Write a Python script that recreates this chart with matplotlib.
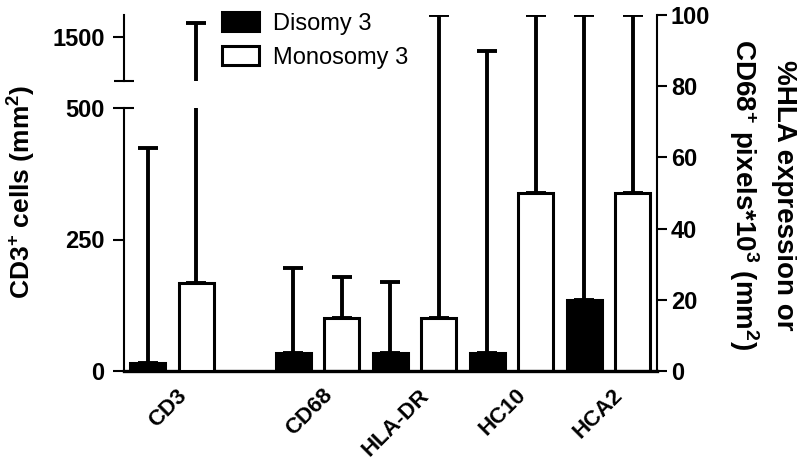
import matplotlib
matplotlib.use('Agg')
import matplotlib.pyplot as plt
import matplotlib.transforms as mtransforms
import numpy as np
from matplotlib.patches import Patch

plt.rcParams['font.family'] = ['Liberation Sans', 'DejaVu Sans']
plt.rcParams['mathtext.fontset'] = 'custom'
plt.rcParams['mathtext.rm'] = 'Liberation Sans'
plt.rcParams['mathtext.bf'] = 'Liberation Sans:bold'
plt.rcParams['mathtext.default'] = 'bf'

groups = ['CD3', 'CD68', 'HLA-DR', 'HC10', 'HCA2']
series = ['Disomy 3', 'Monosomy 3']

# CD3 is read on the left (broken) axis, cells per mm2
cd3_disomy = 15
cd3_monosomy = 167
cd3_disomy_top = 424
cd3_monosomy_top = 1659

# the other markers are read on the right axis
disomy = [5, 5, 5, 20]
monosomy = [15, 15, 50, 50]
disomy_top = [29, 25, 90, 100]
monosomy_top = [26.5, 100, 100, 100]

left_ticks_low = [0, 250, 500]
left_ticks_high = [1500]
right_ticks = [0, 20, 40, 60, 80, 100]

W, H = 797, 468
fig = plt.figure(figsize=(W / 100, H / 100), dpi=100)

def box(x0, y0, x1, y1):
    # pixel box (top-left origin) -> figure fraction
    return [x0 / W, 1 - y1 / H, (x1 - x0) / W, (y1 - y0) / H]

ax_r = fig.add_axes(box(124, 15, 657, 371))
ax_l = fig.add_axes(box(124, 108, 657, 371))
ax_t = fig.add_axes(box(124, 15, 657, 81))

idx = np.arange(len(groups))
xpos = idx + 0.5 * (idx > 0)
off = 0.25
width = 0.36
xlim = (-0.495, 5.0)

bar_kw = dict(width=width, edgecolor='black', linewidth=2.2)
err_kw = dict(fmt='none', ecolor='black', elinewidth=2.8, capsize=7, capthick=2.8)

# right axis groups
xr = xpos[1:]
ax_r.bar(xr - off, disomy, color='black', **bar_kw)
ax_r.bar(xr + off, monosomy, color='white', **bar_kw)
d = np.array(disomy)
m = np.array(monosomy)
ax_r.errorbar(xr - off, d, yerr=[np.zeros(len(d)), np.array(disomy_top) - d], **err_kw)
ax_r.errorbar(xr + off, m, yerr=[np.zeros(len(m)), np.array(monosomy_top) - m], **err_kw)

# CD3 on the left axis, drawn on both pieces of the broken axis
for ax in (ax_l, ax_t):
    ax.bar([xpos[0] - off], [cd3_disomy], color='black', **bar_kw)
    ax.bar([xpos[0] + off], [cd3_monosomy], color='white', **bar_kw)
    ax.errorbar([xpos[0] - off], [cd3_disomy], yerr=[[0], [cd3_disomy_top - cd3_disomy]], **err_kw)
    ax.errorbar([xpos[0] + off], [cd3_monosomy], yerr=[[0], [cd3_monosomy_top - cd3_monosomy]], **err_kw)

for ax in (ax_r, ax_l, ax_t):
    ax.set_xlim(*xlim)
    ax.patch.set_alpha(0)
    for s in ax.spines.values():
        s.set_visible(False)

# right axis
ax_r.set_ylim(0, 100)
ax_r.spines['right'].set_visible(True)
ax_r.spines['right'].set_linewidth(1.5)
ax_r.spines['bottom'].set_visible(True)
ax_r.spines['bottom'].set_linewidth(2.4)
ax_r.yaxis.tick_right()
ax_r.set_yticks(right_ticks)
ax_r.tick_params(axis='y', direction='out', length=7, width=1.5, pad=3, labelsize=17)
ax_r.set_xticks(xpos)
ax_r.set_xticklabels(groups, rotation=45, ha='right', rotation_mode='anchor',
                     fontweight='bold', fontsize=16)
ax_r.tick_params(axis='x', length=0, pad=10)
shift = mtransforms.ScaledTranslation(4 / 100, 0, fig.dpi_scale_trans)
for lab in ax_r.get_xticklabels():
    lab.set_transform(lab.get_transform() + shift)
for lab in ax_r.get_yticklabels():
    lab.set_fontweight('bold')

# lower left piece
ax_l.set_ylim(0, 500)
ax_l.spines['left'].set_visible(True)
ax_l.spines['left'].set_linewidth(1.5)
ax_l.set_xticks([])
ax_l.set_yticks(left_ticks_low)
ax_l.yaxis.remove_overlapping_locs = False
ax_l.set_yticks([left_ticks_low[-1]], minor=True)
ax_l.tick_params(axis='y', which='major', direction='out', length=8, width=1.5, pad=6, labelsize=17)
ax_l.tick_params(axis='y', which='minor', direction='in', length=7, width=1.5)
for lab in ax_l.get_yticklabels():
    lab.set_fontweight('bold')

# upper left piece
ax_t.set_ylim(1000, 1750)
ax_t.spines['left'].set_visible(True)
ax_t.spines['left'].set_linewidth(1.5)
ax_t.set_xticks([])
ax_t.set_yticks(left_ticks_high)
ax_t.set_yticks([1000], minor=True)
ax_t.tick_params(axis='y', which='major', direction='out', length=8, width=1.5, pad=6, labelsize=17)
ax_t.tick_params(axis='y', which='minor', direction='inout', length=15, width=1.5)
for lab in ax_t.get_yticklabels():
    lab.set_fontweight('bold')

fig.text(22 / W, 1 - 192 / H, r'CD3$^{+}$ cells (mm$^{2}$)', rotation=90,
         ha='center', va='center', fontsize=19, fontweight='bold')
fig.text(762 / W, 1 - 195 / H, '%HLA expression or\n' + r'CD68$^{+}$ pixels*10$^{3}$ (mm$^{2}$)',
         rotation=-90, ha='center', va='center', fontsize=20, fontweight='bold',
         linespacing=1.4, multialignment='center')

handles = [Patch(facecolor='black', edgecolor='black', linewidth=2.2),
           Patch(facecolor='white', edgecolor='black', linewidth=2.2)]
fig.legend(handles, series, loc='upper left', bbox_to_anchor=(222 / W, 1 - 12 / H),
           frameon=False, fontsize=17, handlelength=1.55, handleheight=0.85,
           handletextpad=0.6, labelspacing=0.5, borderpad=0, borderaxespad=0)

fig.savefig('out.png', dpi=100)
